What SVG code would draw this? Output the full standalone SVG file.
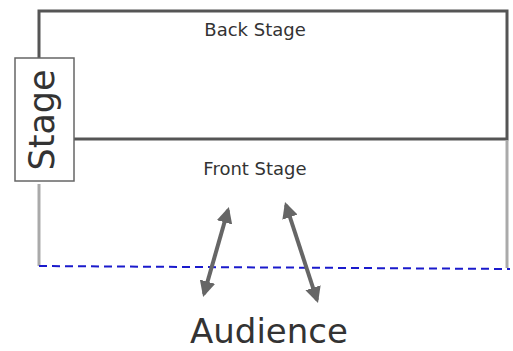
<svg xmlns="http://www.w3.org/2000/svg" width="513" height="351" viewBox="0 0 513 351">
  <style>
    .lbl { font-family: "DejaVu Sans", Verdana, sans-serif; fill: #333; text-anchor: middle; }
    .wall { fill: none; stroke: #555; stroke-width: 3; }
    .side { stroke: #aaa; stroke-width: 3; fill: none; }
    .edge { stroke: #1a1acc; stroke-width: 2; stroke-dasharray: 8 5; fill: none; }
    .arrow { stroke: #666; stroke-width: 4; fill: none; marker-start: url(#head); marker-end: url(#head); }
  </style>
  <defs>
    <marker id="head" viewBox="0 0 10 10" refX="8" refY="5" markerWidth="4" markerHeight="4" orient="auto-start-reverse" markerUnits="strokeWidth">
      <path d="M0,0 L10,5 L0,10 z" fill="#666"/>
    </marker>
  </defs>
  <rect width="513" height="351" fill="#fff"/>

  <g id="backstage">
    <rect class="wall" x="39" y="11" width="468" height="128"/>
    <text class="lbl" x="255" y="36" font-size="18">Back Stage</text>
  </g>

  <g id="frontstage">
    <line class="side" x1="39" y1="184" x2="39" y2="266"/>
    <line class="side" x1="507" y1="140" x2="507" y2="268"/>
    <text class="lbl" x="255" y="175" font-size="18">Front Stage</text>
  </g>

  <g id="stage">
    <rect x="15" y="58" width="59" height="123" fill="#fff" stroke="#666" stroke-width="1.5"/>
    <text class="lbl" font-size="35" transform="translate(54,120) rotate(-90)">Stage</text>
  </g>

  <g id="audience">
    <text class="lbl" x="269" y="343" font-size="34">Audience</text>
  </g>

  <g id="connectors">
    <line class="edge" x1="39" y1="266" x2="510" y2="269"/>
    <line class="arrow" x1="228" y1="210" x2="204" y2="294"/>
    <line class="arrow" x1="286" y1="205" x2="317" y2="300"/>
  </g>
</svg>
